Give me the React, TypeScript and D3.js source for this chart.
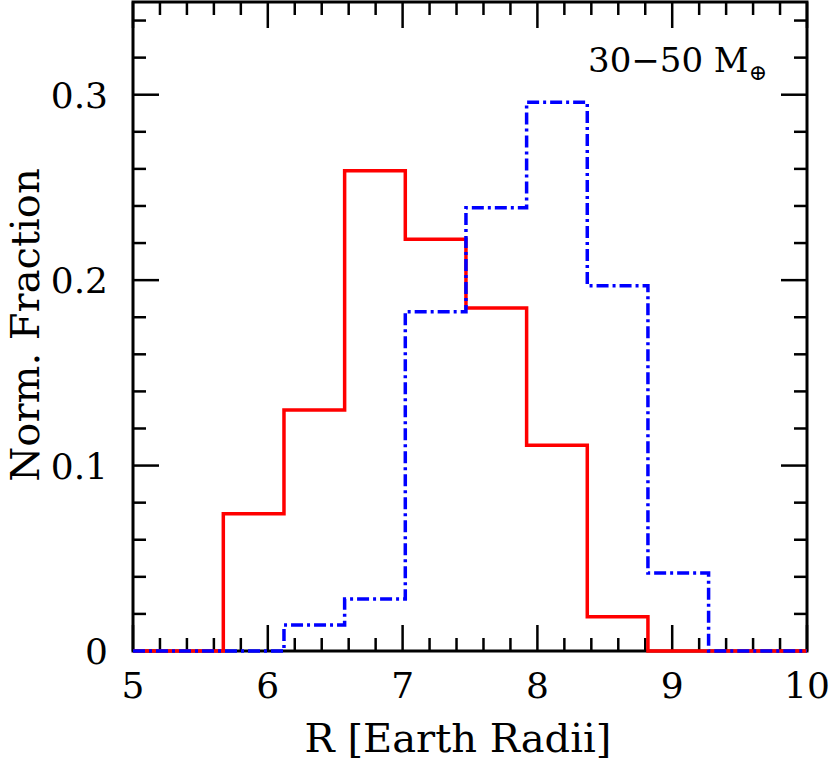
import { curveStepAfter, line, range, scaleLinear, select } from 'd3';
import React, { useEffect, useRef } from 'react';

// histogram bin edges (Earth radii), shared by both series
const binEdges = [5.67, 6.12, 6.57, 7.02, 7.47, 7.92, 8.37, 8.82, 9.27];
// normalised fraction per bin
const redFraction = [0.074, 0.13, 0.259, 0.222, 0.185, 0.111, 0.0185, 0];
const blueFraction = [0, 0.014, 0.028, 0.183, 0.239, 0.296, 0.197, 0.042];

const xTicks = [5, 6, 7, 8, 9, 10];
const yTicks = [0, 0.1, 0.2, 0.3];
const yTickLabels = ['0', '0.1', '0.2', '0.3'];

const W = 830;
const H = 761;
const font = '"DejaVu Serif", serif';

function App() {
  const svgRef = useRef(null);

  useEffect(() => {
    const svg = select(svgRef.current);
    svg.selectAll('*').remove();

    const x = scaleLinear().domain([5, 10]).range([133, 807]);
    const y = scaleLinear().domain([0, 0.35]).range([651, 2]);

    // frame
    svg
      .append('rect')
      .attr('x', x(5))
      .attr('y', y(0.35))
      .attr('width', x(10) - x(5))
      .attr('height', y(0) - y(0.35))
      .attr('fill', 'none')
      .attr('stroke', 'black')
      .attr('stroke-width', 3);

    // ticks on all four sides, pointing inward
    const ticks = svg.append('g').attr('stroke', 'black').attr('stroke-width', 2.5);
    const xMinor = range(5, 10.001, 0.2);
    xMinor.forEach(v => {
      const major = Math.abs(v - Math.round(v)) < 1e-6;
      const len = major ? 26 : 13;
      ticks.append('line').attr('x1', x(v)).attr('x2', x(v)).attr('y1', y(0)).attr('y2', y(0) - len);
      ticks.append('line').attr('x1', x(v)).attr('x2', x(v)).attr('y1', y(0.35)).attr('y2', y(0.35) + len);
    });
    const yMinor = range(0, 0.3501, 0.02);
    yMinor.forEach(v => {
      const major = Math.abs(v * 10 - Math.round(v * 10)) < 1e-6;
      const len = major ? 26 : 13;
      ticks.append('line').attr('y1', y(v)).attr('y2', y(v)).attr('x1', x(5)).attr('x2', x(5) + len);
      ticks.append('line').attr('y1', y(v)).attr('y2', y(v)).attr('x1', x(10)).attr('x2', x(10) - len);
    });

    // tick labels
    svg
      .selectAll('.xlab')
      .data(xTicks)
      .join('text')
      .attr('class', 'xlab')
      .attr('x', d => x(d))
      .attr('y', 698)
      .attr('text-anchor', 'middle')
      .attr('font-family', font)
      .attr('font-size', 36)
      .text(d => d);

    svg
      .selectAll('.ylab')
      .data(yTicks)
      .join('text')
      .attr('class', 'ylab')
      .attr('x', 108)
      .attr('y', d => y(d) + 13)
      .attr('text-anchor', 'end')
      .attr('font-family', font)
      .attr('font-size', 36)
      .text((d, i) => yTickLabels[i]);

    // axis titles
    svg
      .append('text')
      .attr('x', 458)
      .attr('y', 752)
      .attr('text-anchor', 'middle')
      .attr('font-family', font)
      .attr('font-size', 40)
      .text('R [Earth Radii]');

    svg
      .append('text')
      .attr('transform', 'translate(39,325) rotate(-90)')
      .attr('text-anchor', 'middle')
      .attr('font-family', font)
      .attr('font-size', 40)
      .text('Norm. Fraction');

    // mass range annotation
    const note = svg
      .append('text')
      .attr('x', 588)
      .attr('y', 72)
      .attr('font-family', font)
      .attr('font-size', 34);
    note.append('tspan').text('30\u221250 M');
    note.append('tspan').attr('dy', 8).attr('font-size', 22).text('\u2295');

    // step histograms
    const steps = vals => {
      const pts = [[5, 0]];
      binEdges.forEach((e, i) => pts.push([e, i < vals.length ? vals[i] : 0]));
      pts.push([10, 0]);
      return pts;
    };
    const stepLine = line()
      .x(d => x(d[0]))
      .y(d => y(d[1]))
      .curve(curveStepAfter);

    svg
      .append('path')
      .attr('d', stepLine(steps(redFraction)))
      .attr('fill', 'none')
      .attr('stroke', '#ff0000')
      .attr('stroke-width', 3.5);

    svg
      .append('path')
      .attr('d', stepLine(steps(blueFraction)))
      .attr('fill', 'none')
      .attr('stroke', '#0000ff')
      .attr('stroke-width', 3.5)
      .attr('stroke-dasharray', '12,4,3,4');
  }, []);

  return (
    <svg
      ref={svgRef}
      width={W}
      height={H}
      style={{ position: 'absolute', left: 0, top: 0, background: 'white' }}
    />
  );
}

export default App;
